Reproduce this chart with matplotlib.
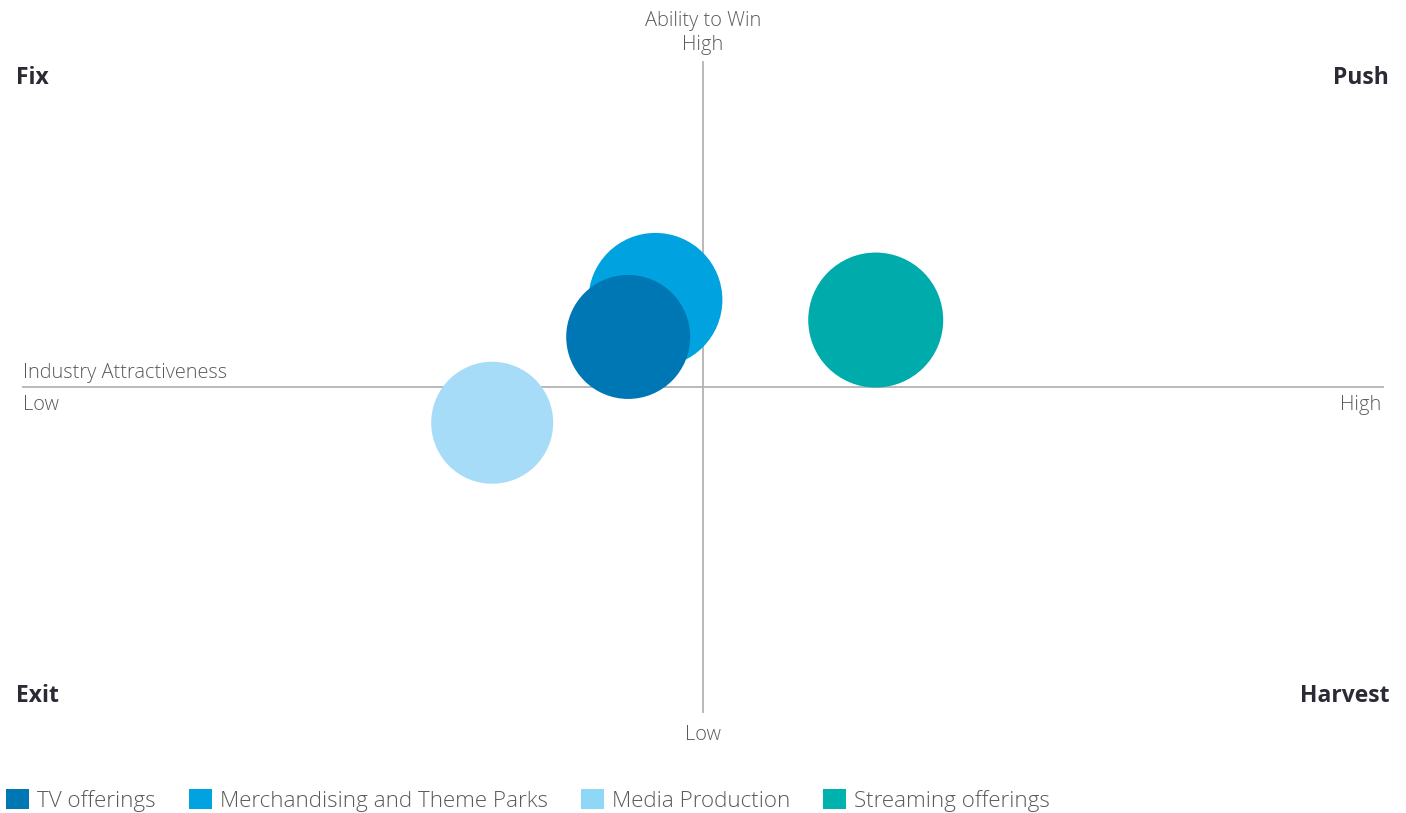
import numpy as np
import matplotlib.pyplot as plt
from matplotlib.patches import Patch

plt.rcParams['font.family'] = ['Open Sans', 'DejaVu Sans']

# bubble data (0-10 scales, 5 = midpoint)
segments = ["TV offerings", "Merchandising and Theme Parks", "Media Production", "Streaming offerings"]
attractiveness = [4.45, 4.65, 3.45, 6.27]
ability = [5.77, 6.34, 4.45, 6.03]
bubble_size = [62, 67, 61, 67.5]
colors = ["#0077B5", "#00A3E0", "#A6DCF7", "#00ABAB"]
legend_colors = ["#0077B5", "#00A3E0", "#8FD7F7", "#00B2AE"]

# draw order: behind first
draw_order = [2, 1, 0, 3]

W, H = 1406, 813
fig = plt.figure(figsize=(W / 100, H / 100), dpi=100)
ax = fig.add_axes([0, 0, 1, 1])
ax.set_xlim(-23 / 136, (W - 23) / 136)
ax.set_ylim(-(H - 712) / 65, 10 + 62 / 65)
ax.axis("off")

line_col = "#b3b3b3"
ax.plot([0, 10], [5, 5], color=line_col, lw=1.3, zorder=1)
ax.plot([5, 5], [0, 10], color=line_col, lw=1.3, zorder=1)

for i in draw_order:
    d_pt = 2 * bubble_size[i] * 72 / 100
    ax.scatter(attractiveness[i], ability[i], s=d_pt ** 2, color=colors[i],
               edgecolors="none", zorder=2)

txt = "#5a5a5a"
fs = 14.4
ax.text(5, 10.63, "Ability to Win", ha="center", va="center", fontsize=fs,
        color=txt, fontweight="light")
ax.text(5, 10.26, "High", ha="center", va="center", fontsize=fs,
        color=txt, fontweight="light")
ax.text(5, -0.35, "Low", ha="center", va="center", fontsize=fs,
        color=txt, fontweight="light")
ax.text(0, 5.22, "Industry Attractiveness", ha="left", va="center", fontsize=fs,
        color=txt, fontweight="light")
ax.text(0, 4.72, "Low", ha="left", va="center", fontsize=fs,
        color=txt, fontweight="light")
ax.text(9.99, 4.72, "High", ha="right", va="center", fontsize=fs,
        color=txt, fontweight="light")

dark = "#2b2b35"
bfs = 16.5
ax.text(-0.05, 9.75, "Fix", ha="left", va="center", fontsize=bfs, fontweight="bold", color=dark)
ax.text(10.045, 9.75, "Push", ha="right", va="center", fontsize=bfs, fontweight="bold", color=dark)
ax.text(-0.05, 0.24, "Exit", ha="left", va="center", fontsize=bfs, fontweight="bold", color=dark)
ax.text(10.045, 0.24, "Harvest", ha="right", va="center", fontsize=bfs, fontweight="bold", color=dark)

handles = [Patch(facecolor=c, edgecolor="none") for c in legend_colors]
leg = fig.legend(handles, segments, loc="upper left", bbox_to_anchor=(6 / W, (H - 789) / H),
                 ncol=4, frameon=False, fontsize=16.1, handlelength=1.03, handleheight=1.03,
                 handletextpad=0.36, columnspacing=1.47, borderaxespad=0, borderpad=0)
for t in leg.get_texts():
    t.set_color("#5a5a5a")
    t.set_fontweight("light")

fig.savefig("out.png", dpi=100)
